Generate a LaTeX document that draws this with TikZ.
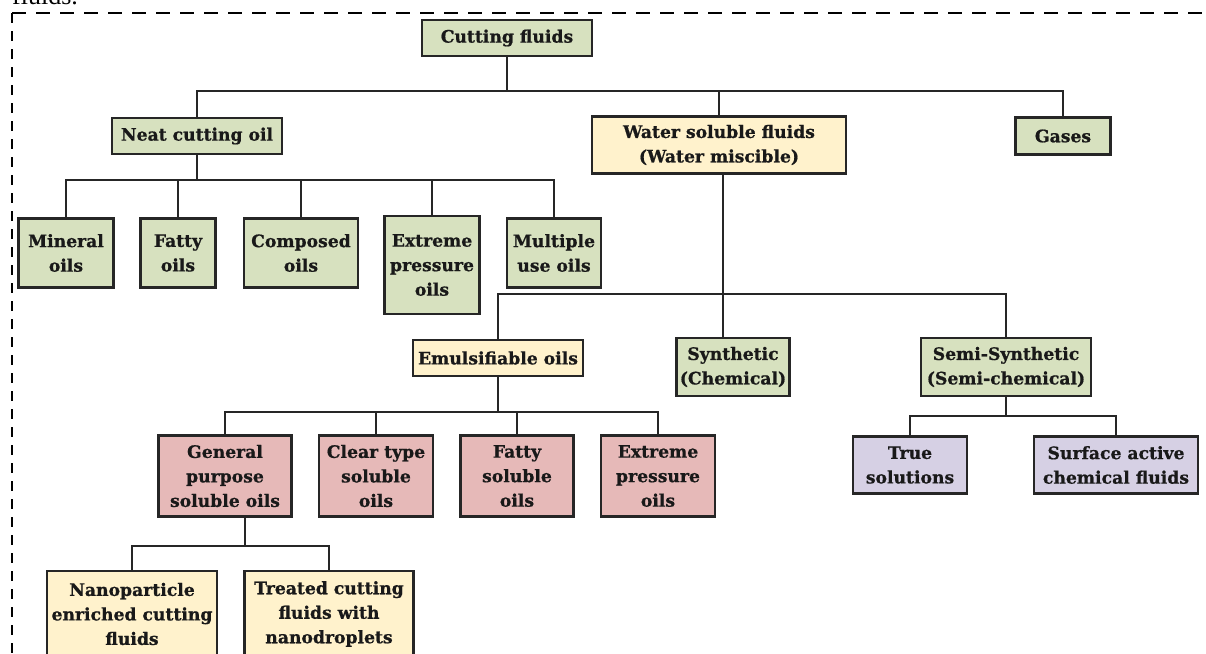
\documentclass[tikz,border=0pt]{standalone}
\usepackage{fontspec}
\setmainfont{DejaVu Serif}[BoldFeatures={FakeBold=0.8}]
\newfontfamily\capfont{Liberation Serif}
\definecolor{cgreen}{HTML}{D7E1BF}
\definecolor{cyellow}{HTML}{FFF2CC}
\definecolor{cpink}{HTML}{E6B9B8}
\definecolor{cpurple}{HTML}{D6D0E4}
\definecolor{cline}{HTML}{262626}
\begin{document}
\begin{tikzpicture}[x=1pt,y=-1pt,
  box/.style={draw=cline, line width=2.2pt, inner sep=0pt, align=center,
    font=\fontsize{17.2}{24.5}\selectfont\bfseries, text=black!90},
  gbox/.style={box, fill=cgreen},
  ybox/.style={box, fill=cyellow},
  pbox/.style={box, fill=cpink},
  vbox/.style={box, fill=cpurple},
  conn/.style={draw=cline, line width=2.2pt},
  frame/.style={draw=black, line width=2pt}]
\useasboundingbox (0,0) rectangle (1206,653);
\clip (0,0) rectangle (1206,653);
% caption fragment
\node[anchor=base west, inner sep=0pt, font=\capfont\fontsize{26}{30}\selectfont] (cap) at (12,5) {fluids.};
% dashed frame
\draw[frame, dash pattern=on 14pt off 10pt] (12,13) -- (1230,13);
\draw[frame, dash pattern=on 10pt off 8pt] (12,13) -- (12,700);
% level 0/1
\node[gbox, minimum width=170, minimum height=36] (cf) at (507,38) {Cutting fluids};
\node[gbox, minimum width=170, minimum height=36] (neat) at (197,136) {Neat cutting oil};
\node[ybox, minimum width=254, minimum height=57] (water) at (719,145) {Water soluble fluids\\(Water miscible)};
\node[gbox, minimum width=95, minimum height=37] (gases) at (1063,136) {Gases};
% neat oil children
\node[gbox, minimum width=95, minimum height=69] (mineral) at (66,253) {Mineral\\oils};
\node[gbox, minimum width=75, minimum height=69] (fatty) at (178,253) {Fatty\\oils};
\node[gbox, minimum width=114, minimum height=69] (composed) at (301,253) {Composed\\oils};
\node[gbox, minimum width=95, minimum height=98] (extreme) at (432,265) {Extreme\\pressure\\oils};
\node[gbox, minimum width=94, minimum height=69] (multiple) at (554,253) {Multiple\\use oils};
% water soluble children
\node[ybox, minimum width=170, minimum height=36] (emul) at (498,358) {Emulsifiable oils};
\node[gbox, minimum width=113, minimum height=58] (synth) at (733,367) {Synthetic\\(Chemical)};
\node[gbox, minimum width=170, minimum height=58] (semi) at (1006,367) {Semi-Synthetic\\(Semi-chemical)};
% semi children
\node[vbox, minimum width=114, minimum height=57] (true) at (910,465) {True\\solutions};
\node[vbox, minimum width=164, minimum height=57] (surface) at (1116,465) {Surface active\\chemical fluids};
% emulsifiable children
\node[pbox, minimum width=133, minimum height=81] (general) at (225,476) {General\\purpose\\soluble oils};
\node[pbox, minimum width=114, minimum height=81] (clear) at (376,476) {Clear type\\soluble\\oils};
\node[pbox, minimum width=113, minimum height=81] (fattys) at (517,476) {Fatty\\soluble\\oils};
\node[pbox, minimum width=114, minimum height=81] (extremes) at (658,476) {Extreme\\pressure\\oils};
% general children
\node[ybox, minimum width=170, minimum height=86] (nano) at (132,614) {Nanoparticle\\enriched cutting\\fluids};
\node[ybox, minimum width=169, minimum height=86] (treated) at (329,614) {Treated cutting\\fluids with\\nanodroplets};
% junctions
\coordinate (j1) at (507,91);
\coordinate (j2) at (197,180);
\coordinate (j3) at (723,294);
\coordinate (j4) at (497,412);
\coordinate (j5) at (245,546);
\coordinate (j6) at (1006,416);
% connectors
\draw[conn] (cf.south) -- (j1);
\draw[conn] (neat.north) |- (j1) -| (gases.north);
\draw[conn] (water.north) -- (water.north |- j1);
\draw[conn] (neat.south) -- (j2);
\draw[conn] (mineral.north) |- (j2) -| (multiple.north);
\draw[conn] (fatty.north) -- (fatty.north |- j2);
\draw[conn] (composed.north) -- (composed.north |- j2);
\draw[conn] (extreme.north) -- (extreme.north |- j2);
\draw[conn] (water.south -| j3) -- (synth.north -| j3);
\draw[conn] (emul.north) |- (j3) -| (semi.north);
\draw[conn] (emul.south) -- (emul.south |- j4);
\draw[conn] (general.north) |- (j4) -| (extremes.north);
\draw[conn] (clear.north) -- (clear.north |- j4);
\draw[conn] (fattys.north) -- (fattys.north |- j4);
\draw[conn] (general.south -| j5) -- (j5);
\draw[conn] (nano.north) |- (j5) -| (treated.north);
\draw[conn] (semi.south) -- (j6);
\draw[conn] (true.north) |- (j6) -| (surface.north);
\end{tikzpicture}
\end{document}
